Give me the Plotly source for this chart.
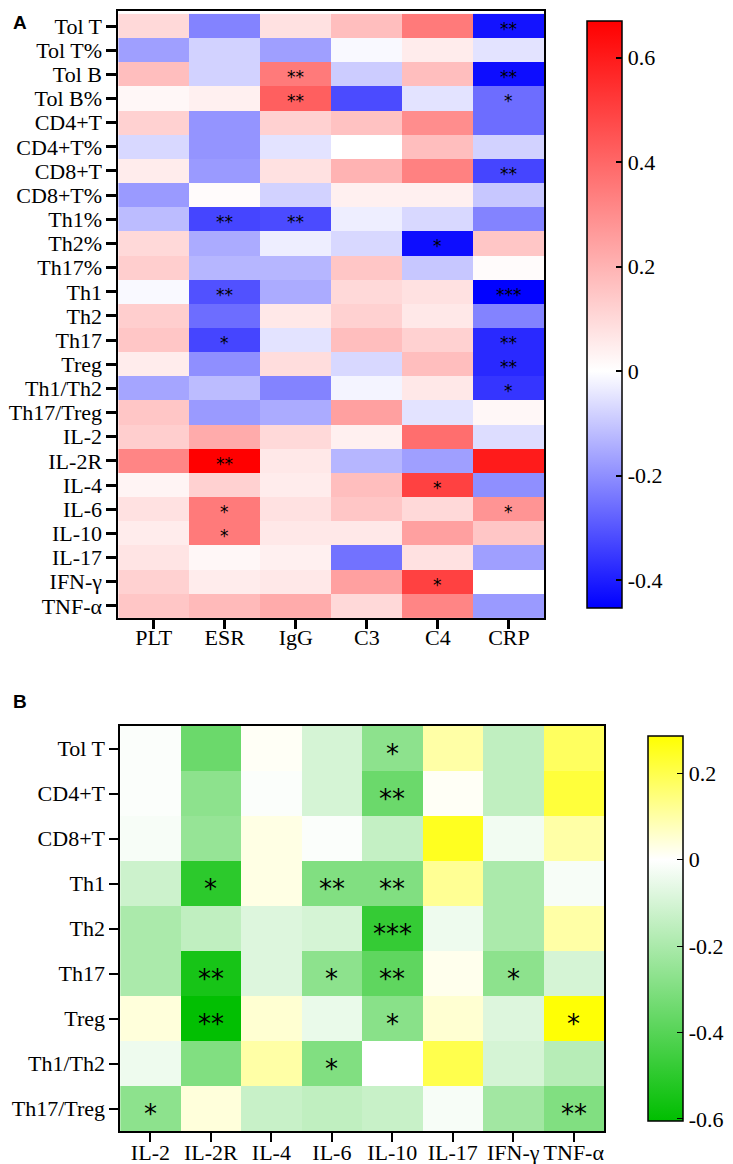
import plotly.graph_objects as go

# panel A: correlation of immune cells / cytokines with clinical indices
rows_a = ["Tol T", "Tol T%", "Tol B", "Tol B%", "CD4+T", "CD4+T%", "CD8+T", "CD8+T%",
          "Th1%", "Th2%", "Th17%", "Th1", "Th2", "Th17", "Treg", "Th1/Th2", "Th17/Treg",
          "IL-2", "IL-2R", "IL-4", "IL-6", "IL-10", "IL-17", "IFN-γ", "TNF-α"]
cols_a = ["PLT", "ESR", "IgG", "C3", "C4", "CRP"]
values_a = [
    [0.10, -0.22, 0.08, 0.17, 0.35, -0.42],
    [-0.17, -0.08, -0.17, -0.01, 0.05, -0.05],
    [0.17, -0.08, 0.35, -0.09, 0.17, -0.43],
    [0.02, 0.04, 0.42, -0.32, -0.05, -0.26],
    [0.12, -0.19, 0.12, 0.16, 0.30, -0.26],
    [-0.07, -0.19, -0.05, 0.00, 0.17, -0.08],
    [0.05, -0.18, 0.08, 0.20, 0.33, -0.33],
    [-0.18, 0.01, -0.08, 0.04, 0.04, -0.10],
    [-0.12, -0.33, -0.32, -0.03, -0.07, -0.22],
    [0.10, -0.15, -0.03, -0.07, -0.43, 0.15],
    [0.13, -0.13, -0.13, 0.15, -0.10, 0.01],
    [-0.01, -0.31, -0.15, 0.10, 0.08, -0.45],
    [0.13, -0.26, 0.06, 0.12, 0.06, -0.22],
    [0.15, -0.33, -0.05, 0.17, 0.12, -0.38],
    [0.05, -0.20, 0.09, -0.07, 0.17, -0.38],
    [-0.16, -0.12, -0.22, -0.02, 0.06, -0.36],
    [0.15, -0.18, -0.15, 0.25, -0.05, 0.02],
    [0.13, 0.22, 0.10, 0.04, 0.38, -0.06],
    [0.32, 0.67, 0.06, -0.13, -0.17, 0.60],
    [0.03, 0.12, 0.05, 0.17, 0.50, -0.20],
    [0.08, 0.35, 0.08, 0.15, 0.10, 0.28],
    [0.05, 0.35, 0.06, 0.06, 0.25, 0.15],
    [0.07, 0.02, 0.04, -0.25, 0.08, -0.17],
    [0.12, 0.05, 0.06, 0.25, 0.50, 0.00],
    [0.15, 0.18, 0.22, 0.10, 0.32, -0.18],
]
# (row, col, stars)
stars_a = [
    ("Tol T", "CRP", "**"), ("Tol B", "IgG", "**"), ("Tol B", "CRP", "**"),
    ("Tol B%", "IgG", "**"), ("Tol B%", "CRP", "*"), ("CD8+T", "CRP", "**"),
    ("Th1%", "ESR", "**"), ("Th1%", "IgG", "**"), ("Th2%", "C4", "*"),
    ("Th1", "ESR", "**"), ("Th1", "CRP", "***"), ("Th17", "ESR", "*"),
    ("Th17", "CRP", "**"), ("Treg", "CRP", "**"), ("Th1/Th2", "CRP", "*"),
    ("IL-2R", "ESR", "**"), ("IL-4", "C4", "*"), ("IL-6", "ESR", "*"),
    ("IL-6", "CRP", "*"), ("IL-10", "ESR", "*"), ("IFN-γ", "C4", "*"),
]
cbar_vals_a = [0.6, 0.4, 0.2, 0, -0.2, -0.4]
cbar_text_a = ["0.6", "0.4", "0.2", "0", "-0.2", "-0.4"]

# panel B: immune cells vs cytokines
rows_b = ["Tol T", "CD4+T", "CD8+T", "Th1", "Th2", "Th17", "Treg", "Th1/Th2", "Th17/Treg"]
cols_b = ["IL-2", "IL-2R", "IL-4", "IL-6", "IL-10", "IL-17", "IFN-γ", "TNF-α"]
values_b = [
    [-0.01, -0.35, 0.01, -0.10, -0.27, 0.10, -0.15, 0.18],
    [-0.01, -0.27, -0.01, -0.10, -0.35, 0.01, -0.15, 0.22],
    [-0.02, -0.25, 0.03, -0.01, -0.14, 0.25, -0.03, 0.10],
    [-0.12, -0.50, 0.03, -0.30, -0.30, 0.12, -0.20, -0.02],
    [-0.20, -0.15, -0.08, -0.10, -0.48, -0.04, -0.20, 0.10],
    [-0.20, -0.55, -0.08, -0.27, -0.38, 0.02, -0.27, -0.10],
    [0.04, -0.60, 0.05, -0.05, -0.28, 0.05, -0.08, 0.28],
    [-0.04, -0.30, 0.10, -0.30, 0.00, 0.20, -0.10, -0.17],
    [-0.27, 0.04, -0.13, -0.15, -0.13, -0.02, -0.22, -0.30],
]
stars_b = [
    ("Tol T", "IL-10", "*"), ("CD4+T", "IL-10", "**"), ("Th1", "IL-2R", "*"),
    ("Th1", "IL-6", "**"), ("Th1", "IL-10", "**"), ("Th2", "IL-10", "***"),
    ("Th17", "IL-2R", "**"), ("Th17", "IL-6", "*"), ("Th17", "IL-10", "**"),
    ("Th17", "IFN-γ", "*"), ("Treg", "IL-2R", "**"), ("Treg", "IL-10", "*"),
    ("Treg", "TNF-α", "*"), ("Th1/Th2", "IL-6", "*"), ("Th17/Treg", "IL-2", "*"),
    ("Th17/Treg", "TNF-α", "**"),
]
cbar_vals_b = [0.2, 0, -0.2, -0.4, -0.6]
cbar_text_b = ["0.2", "0", "-0.2", "-0.4", "-0.6"]

W, H = 733, 1164
SERIF = "Liberation Serif"
LBL = 22  # axis label size

zmin_a, zmax_a = -0.4535, 0.67
zmin_b, zmax_b = -0.605, 0.286
mid_a = -zmin_a / (zmax_a - zmin_a)
mid_b = -zmin_b / (zmax_b - zmin_b)

fig = go.Figure()

fig.add_trace(go.Heatmap(
    z=values_a, x=cols_a, y=rows_a, xaxis="x", yaxis="y",
    zmin=zmin_a, zmax=zmax_a,
    colorscale=[[0, "rgb(0,0,255)"], [mid_a, "rgb(255,255,255)"], [1, "rgb(255,0,0)"]],
    colorbar=dict(
        x=583 / W, xanchor="left", thickness=35, thicknessmode="pixels",
        len=607, lenmode="pixels", y=1 - 306.5 / H, yanchor="middle",
        outlinewidth=1.5, outlinecolor="black",
        tickvals=cbar_vals_a, ticktext=cbar_text_a, tickprefix="\u00a0\u00a0",
        ticks="inside", ticklen=6, tickwidth=1.5, tickcolor="black",
        tickfont=dict(family=SERIF, size=22, color="black"),
    ),
    hovertemplate="%{y} / %{x}: %{z}<extra></extra>",
))

fig.add_trace(go.Heatmap(
    z=values_b, x=cols_b, y=rows_b, xaxis="x2", yaxis="y2",
    zmin=zmin_b, zmax=zmax_b,
    colorscale=[[0, "rgb(0,190,0)"], [mid_b, "rgb(255,255,255)"], [1, "rgb(255,255,0)"]],
    colorbar=dict(
        x=646 / W, xanchor="left", thickness=35, thicknessmode="pixels",
        len=405, lenmode="pixels", y=1 - 920.5 / H, yanchor="middle",
        outlinewidth=1.5, outlinecolor="black",
        tickvals=cbar_vals_b, ticktext=cbar_text_b, tickprefix="\u00a0\u00a0",
        ticks="inside", ticklen=6, tickwidth=1, tickcolor="black",
        tickfont=dict(family=SERIF, size=22, color="black"),
    ),
    hovertemplate="%{y} / %{x}: %{z}<extra></extra>",
))

annotations = []
for r, c, s in stars_a:
    annotations.append(dict(x=c, y=r, xref="x", yref="y", text=s, showarrow=False,
                            font=dict(family="DejaVu Sans", size=17, color="black"), yshift=-3))
for r, c, s in stars_b:
    annotations.append(dict(x=c, y=r, xref="x2", yref="y2", text=s, showarrow=False,
                            font=dict(family="DejaVu Sans", size=26, color="black"), yshift=-5))

for lbl, ypx in (("A", 15), ("B", 693)):
    annotations.append(dict(x=3 / W, y=1 - ypx / H, xref="paper", yref="paper", text="<b>%s</b>" % lbl,
                            showarrow=False, xanchor="left", yanchor="middle",
                            font=dict(family="Liberation Sans", size=19, color="black")))

axis_common = dict(showline=True, linecolor="black", mirror=True, ticks="outside",
                   tickcolor="black", showgrid=False, zeroline=False, tickmode="linear", dtick=1,
                   tickangle=0, tickfont=dict(family=SERIF, size=LBL, color="black"))

fig.update_layout(
    width=W, height=H,
    margin=dict(l=0, r=0, t=0, b=0),
    paper_bgcolor="white", plot_bgcolor="white",
    font=dict(family=SERIF),
    xaxis=dict(domain=[113 / W, 550 / W], anchor="y", linewidth=1.5, ticklen=9, tickwidth=2.5,
               ticklabelstandoff=-10, **axis_common),
    yaxis=dict(domain=[1 - 610 / H, 1 - 3 / H], anchor="x", autorange="reversed",
               linewidth=1.5, ticklen=10, tickwidth=2.5, **axis_common),
    xaxis2=dict(domain=[115 / W, 611 / W], anchor="y2", linewidth=1.5, ticklen=9, tickwidth=1.5,
                ticklabelstandoff=-8, **axis_common),
    yaxis2=dict(domain=[1 - 1123 / H, 1 - 718 / H], anchor="x2", autorange="reversed",
                linewidth=1.5, ticklen=9, tickwidth=1.5, **axis_common),
    annotations=annotations,
    showlegend=False,
)

fig.write_html("out.html")
